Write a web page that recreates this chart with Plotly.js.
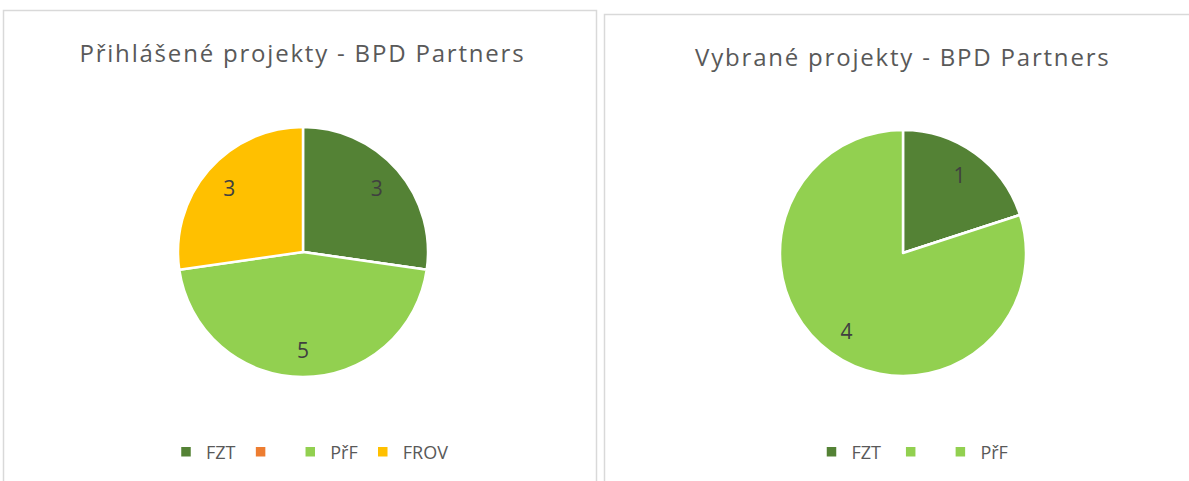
<!DOCTYPE html>
<html><head><meta charset="utf-8">
<script src="https://cdn.plot.ly/plotly-3.0.1.min.js"></script>
<style>body{margin:0;background:#fff}#c{width:1189px;height:481px}
#c .annotation-text{letter-spacing:1.8px}</style>
</head><body><div id="c"></div>
<script>
const leftTitle = "Přihlášené projekty - BPD Partners";
const leftLabels = ["FZT", " ", "PřF", "FROV"];
const leftValues = [3, 0, 5, 3];
const leftColors = ["#548235", "#ED7D31", "#92D050", "#FFC000"];

const rightTitle = "Vybrané projekty - BPD Partners";
const rightLabels = ["FZT ", "\u00a0", "PřF "];
const rightValues = [1, 0, 4];
const rightColors = ["#548235", "#92D050", "#92D050"];

const W = 1189, H = 481;
const fontFam = "'Open Sans', 'Noto Sans', sans-serif";

function dom(cx, cy, r) {
  return {x: [(cx - r) / W, (cx + r) / W], y: [1 - (cy + r) / H, 1 - (cy - r) / H]};
}

function slices(labels, values, colors, d, leg) {
  return {
    type: 'pie', sort: false, direction: 'clockwise', rotation: 0,
    labels: labels, values: values, textinfo: 'none',
    marker: {colors: colors, line: {color: '#fff', width: 2.5}},
    domain: d, legend: leg, hoverinfo: 'label+value'
  };
}
function valueLabels(labels, values, d) {
  return {
    type: 'pie', sort: false, direction: 'clockwise', rotation: 0, hole: 0.56,
    labels: labels, values: values, showlegend: false,
    textinfo: 'value', textposition: 'inside', insidetextorientation: 'horizontal',
    textfont: {color: '#404040', size: 21, family: fontFam},
    marker: {colors: labels.map(() => 'rgba(0,0,0,0)'), line: {width: 0}},
    domain: d, hoverinfo: 'skip'
  };
}

const dL = dom(303, 252, 125), dR = dom(903, 253, 123);
const data = [
  slices(leftLabels, leftValues, leftColors, dL, 'legend'),
  slices(rightLabels, rightValues, rightColors, dR, 'legend2'),
  valueLabels(leftLabels, leftValues, dL),
  valueLabels(rightLabels, rightValues, dR)
];

const legendBase = {
  orientation: 'h', xanchor: 'center', yanchor: 'middle',
  font: {size: 18, color: '#595959', family: fontFam},
  bgcolor: 'rgba(0,0,0,0)', itemwidth: 30, traceorder: 'normal'
};

const layout = {
  width: W, height: H,
  margin: {l: 0, r: 0, t: 0, b: 0},
  paper_bgcolor: '#fff', plot_bgcolor: '#fff',
  showlegend: true,
  legend: Object.assign({}, legendBase, {x: 310 / W, y: 1 - 452 / H}),
  legend2: Object.assign({}, legendBase, {x: 915 / W, y: 1 - 452 / H}),
  annotations: [
    {text: leftTitle, x: 302 / W, y: 1 - 52 / H, xref: 'paper', yref: 'paper',
     xanchor: 'center', yanchor: 'middle',
     showarrow: false, font: {size: 24, color: '#595959', family: fontFam}},
    {text: rightTitle, x: 903 / W, y: 1 - 57 / H, xref: 'paper', yref: 'paper',
     xanchor: 'center', yanchor: 'middle',
     showarrow: false, font: {size: 24, color: '#595959', family: fontFam}}
  ],
  shapes: [
    {type: 'rect', xref: 'paper', yref: 'paper', x0: 3.5 / W, x1: 596.5 / W, y0: -0.05, y1: 1 - 10.5 / H,
     line: {color: '#D9D9D9', width: 1.5}},
    {type: 'rect', xref: 'paper', yref: 'paper', x0: 604.5 / W, x1: 1.05, y0: -0.05, y1: 1 - 14.5 / H,
     line: {color: '#D9D9D9', width: 1.5}}
  ]
};

Plotly.newPlot('c', data, layout, {displayModeBar: false, staticPlot: true});
</script></body></html>
